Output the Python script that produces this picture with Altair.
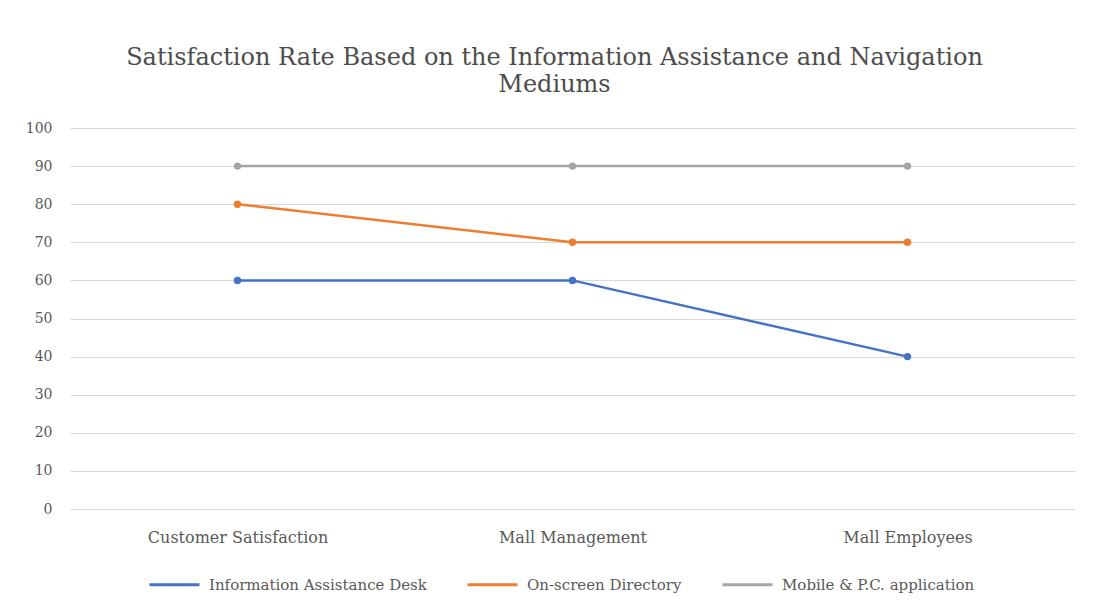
import altair as alt
import pandas as pd

categories = ["Customer Satisfaction", "Mall Management", "Mall Employees"]
series_names = ["Information Assistance Desk", "On-screen Directory", "Mobile & P.C. application"]
desk = [60, 60, 40]
screen = [80, 70, 70]
mobile = [90, 90, 90]
colors = ["#4472C4", "#ED7D31", "#A5A5A5"]

rows = []
for name, vals in zip(series_names, [desk, screen, mobile]):
    for c, v in zip(categories, vals):
        rows.append({"Category": c, "Series": name, "Value": v})
df = pd.DataFrame(rows)

FONT = "DejaVu Serif"
TXT = "#595959"

x = alt.X("Category:N", sort=categories, title=None,
          scale=alt.Scale(paddingOuter=0.5),
          axis=alt.Axis(labelAngle=0, domain=False, ticks=False, grid=False,
                        labelPadding=20, labelFontSize=16, labelFont=FONT, labelColor=TXT,
                        labelLimit=400))
y = alt.Y("Value:Q", title=None,
          scale=alt.Scale(domain=[0, 100]),
          axis=alt.Axis(values=list(range(0, 101, 10)), domain=False, ticks=False,
                        labelPadding=18, labelFontSize=14, labelFont=FONT, labelColor=TXT,
                        gridColor="#D9D9D9", gridWidth=1))
color = alt.Color("Series:N", sort=series_names,
                  scale=alt.Scale(domain=series_names, range=colors),
                  legend=alt.Legend(title=None, orient="none", legendX=78, legendY=430,
                                    direction="horizontal", columns=3, columnPadding=34,
                                    symbolType="stroke", symbolSize=2500, symbolStrokeWidth=3,
                                    labelFont=FONT, labelFontSize=15, labelColor=TXT,
                                    labelOffset=8, labelLimit=400))

base = alt.Chart(df).encode(x=x, y=y, color=color, detail="Series:N")
lines = base.mark_line(strokeWidth=2.5)
points = base.mark_point(filled=True, size=55, opacity=1, shape="circle")

chart = (lines + points).properties(
    width=1005, height=381,
    padding={"left": 70, "top": 128, "right": 32, "bottom": 107},
    autosize=alt.AutoSizeParams(type="none"),
    background="white",
    title=alt.Title(["Satisfaction Rate Based on the Information Assistance and Navigation", "Mediums"],
                    font=FONT, fontSize=24, fontWeight="normal", color="#4D4D4D",
                    lineHeight=27, offset=24, anchor="middle", dx=-18),
).configure_view(strokeWidth=0)

chart.save("out.html", embed_options={"renderer": "svg", "actions": False})
